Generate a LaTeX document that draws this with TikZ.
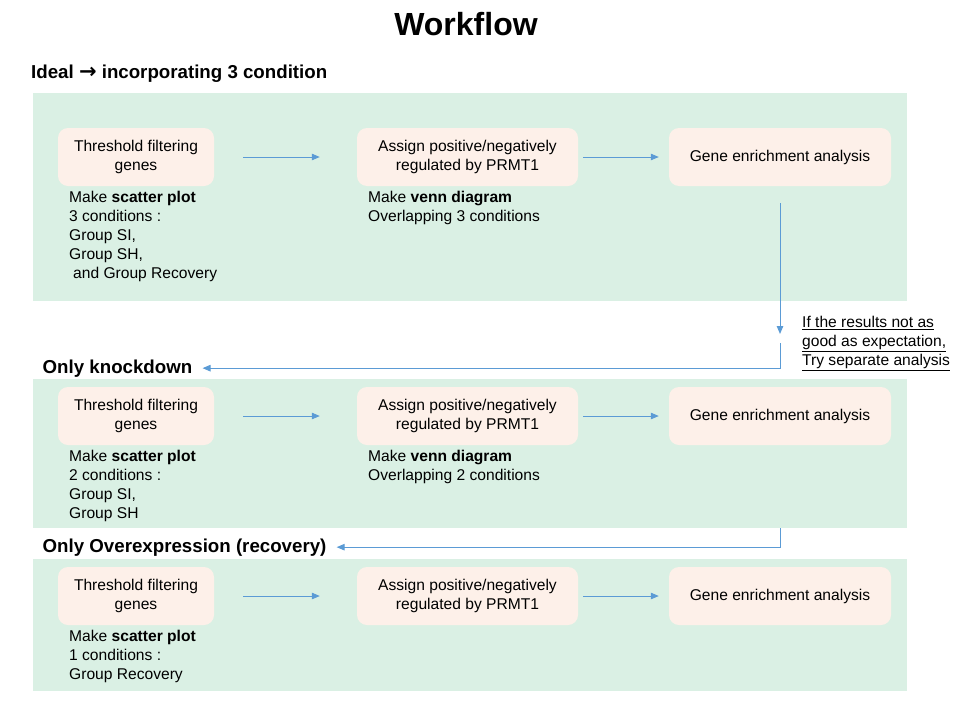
\documentclass[tikz,border=0pt]{standalone}
\usepackage{fontspec}
\setmainfont{Liberation Sans}
\newfontfamily\wfarrowfont{DejaVu Sans}
\usetikzlibrary{arrows.meta}
\definecolor{panelgreen}{RGB}{218,240,228}
\definecolor{boxpeach}{RGB}{253,240,233}
\definecolor{lineblue}{RGB}{91,155,213}
\newcommand{\wfbox}{\fontsize{15.6}{18.5}\selectfont}
\newcommand{\wfnote}{\fontsize{15.6}{19}\selectfont}
\newcommand{\wfhdr}{\bfseries\fontsize{18.7}{22}\selectfont}
\tikzset{
  panel/.style={fill=panelgreen, draw=none, inner sep=0pt, anchor=north west, minimum width=874pt},
  stepbox/.style={fill=boxpeach, draw=none, rounded corners=10pt, minimum height=58pt, inner sep=0pt, align=center, font=\wfbox},
  arr/.style={draw=lineblue, line width=1pt, -{Triangle[length=8pt,width=6.5pt]}},
  hdr/.style={font=\wfhdr, anchor=base west, inner sep=0pt},
  note/.style={font=\wfnote, anchor=north west, inner sep=0pt, align=left},
}
\begin{document}
\begin{tikzpicture}[x=1pt,y=-1pt]
\useasboundingbox (0,0) rectangle (960,720);
% panels
\node[panel, minimum height=208pt] (p1) at (33,93) {};
\node[panel, minimum height=149pt] (p2) at (33,379) {};
\node[panel, minimum height=132pt] (p3) at (33,559) {};
% title and headers
\node[font=\bfseries\fontsize{32}{38}\selectfont, inner sep=0pt] (title) at (466,24.5) {Workflow};
\node[hdr] (h1) at (31,78) {Ideal {\wfarrowfont\bfseries\fontsize{21}{22}\selectfont →} incorporating 3 condition};
\node[hdr] (h2) at (42.5,373) {Only knockdown};
\node[hdr] (h3) at (42.5,552) {Only Overexpression (recovery)};
% row 1
\node[stepbox, minimum width=156pt] (a1) at (136,157) {Threshold filtering\\genes};
\node[stepbox, minimum width=221pt] (b1) at (467.5,157) {Assign positive/negatively\\regulated by PRMT1};
\node[stepbox, minimum width=222pt] (c1) at (780,157) {Gene enrichment analysis};
\draw[arr, shorten <=29pt, shorten >=37pt] (a1) -- (b1);
\draw[arr, shorten <=5pt, shorten >=10pt] (b1) -- (c1);
\node[note] (n1) at (69,190.7) {Make \textbf{scatter plot}\\3 conditions :\\Group SI,\\Group SH,\\\hspace*{4pt}and Group Recovery};
\node[note] (v1) at (368,190.7) {Make \textbf{venn diagram}\\Overlapping 3 conditions};
% row 2
\node[stepbox, minimum width=156pt] (a2) at (136,416) {Threshold filtering\\genes};
\node[stepbox, minimum width=221pt] (b2) at (467.5,416) {Assign positive/negatively\\regulated by PRMT1};
\node[stepbox, minimum width=222pt] (c2) at (780,416) {Gene enrichment analysis};
\draw[arr, shorten <=29pt, shorten >=37pt] (a2) -- (b2);
\draw[arr, shorten <=5pt, shorten >=10pt] (b2) -- (c2);
\node[note] (n2) at (69,449.7) {Make \textbf{scatter plot}\\2 conditions :\\Group SI,\\Group SH};
\node[note] (v2) at (368,449.7) {Make \textbf{venn diagram}\\Overlapping 2 conditions};
% row 3
\node[stepbox, minimum width=156pt] (a3) at (136,596) {Threshold filtering\\genes};
\node[stepbox, minimum width=221pt] (b3) at (467.5,596) {Assign positive/negatively\\regulated by PRMT1};
\node[stepbox, minimum width=222pt] (c3) at (780,596) {Gene enrichment analysis};
\draw[arr, shorten <=29pt, shorten >=37pt] (a3) -- (b3);
\draw[arr, shorten <=5pt, shorten >=10pt] (b3) -- (c3);
\node[note] (n3) at (69,629.7) {Make \textbf{scatter plot}\\1 conditions :\\Group Recovery};
% connectors between panels
\coordinate (d1) at (780,334);
\draw[arr, shorten <=17pt] (c1) -- (d1);
\coordinate (e1) at (780,343);
\draw[arr, shorten >=10pt] (e1) |- (h2);
\draw[arr, shorten >=10pt] (p2.south -| c2) |- (h3);
\node[note] (lbl) at (802,315.8) {\underline{If the results not as}\\\underline{good as expectation,}\\\underline{Try separate analysis}};
\end{tikzpicture}
\end{document}
